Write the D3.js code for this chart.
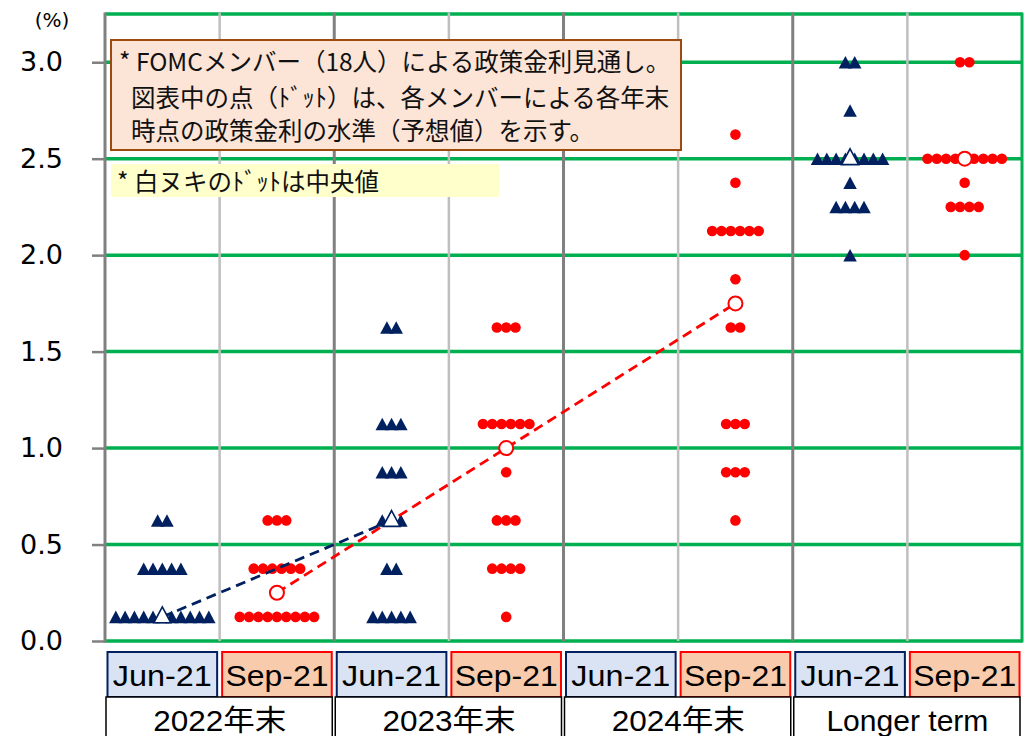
<!DOCTYPE html>
<html><head><meta charset="utf-8">
<script src="https://cdn.jsdelivr.net/npm/d3@7"></script>
<style>html,body{margin:0;padding:0;background:#fff;}svg{display:block;}</style>
</head><body>
<svg id="chart" width="1030" height="736"></svg>
<script>
// ---- data ----
const groups = ["2022年末", "2023年末", "2024年末", "Longer term"];
const meetings = ["Jun-21", "Sep-21"];
const yTicks = [0, 0.5, 1.0, 1.5, 2.0, 2.5, 3.0];
// [rate, number of dots]
const jun2022 = [[0.125, 11], [0.375, 5], [0.625, 2]];
const sep2022 = [[0.125, 9], [0.375, 6], [0.625, 3]];
const jun2023 = [[0.125, 5], [0.375, 2], [0.625, 3], [0.875, 3], [1.125, 3], [1.625, 2]];
const sep2023 = [[0.125, 1], [0.375, 4], [0.625, 3], [0.875, 1], [1.125, 6], [1.625, 3]];
const jun2024 = [];
const sep2024 = [[0.625, 1], [0.875, 3], [1.125, 3], [1.625, 2], [1.875, 1], [2.125, 6], [2.375, 1], [2.625, 1]];
const junLonger = [[2.0, 1], [2.25, 4], [2.375, 1], [2.5, 8], [2.75, 1], [3.0, 2]];
const sepLonger = [[2.0, 1], [2.25, 4], [2.375, 1], [2.5, 9], [3.0, 2]];
const junMedians = [0.125, 0.625, null, 2.5];
const sepMedians = [0.25, 1.0, 1.75, 2.5];
const noteLines = ["* FOMCメンバー（18人）による政策金利見通し。", "図表中の点（ﾄﾞｯﾄ）は、各メンバーによる各年末", "時点の政策金利の水準（予想値）を示す。"];
const noteMedian = "* 白ヌキのﾄﾞｯﾄは中央値";

// ---- setup ----
const svg = d3.select("#chart");
const cols = [];
groups.forEach((g, gi) => meetings.forEach((m, mi) => cols.push({g, gi, m, mi, key: g + "|" + m})));
const colDots = [jun2022, sep2022, jun2023, sep2023, jun2024, sep2024, junLonger, sepLonger];
const L = 105, R = 1022, T = 14, B = 641;
const x = d3.scaleBand().domain(cols.map(c => c.key)).range([L, R]).padding(0);
const bw = x.bandwidth();
const y = d3.scaleLinear().domain([0, 3.25]).range([B, T]);
const NAVY = "#002060", RED = "#ff0000", GREEN = "#00b050";
const cx = c => x(c.key) + bw / 2;

// isoceles triangle symbol type (size = width)
const isoTri = {draw(ctx, size) {
  const w = size, h = size * 0.93;
  ctx.moveTo(0, -h / 2); ctx.lineTo(w / 2, h / 2); ctx.lineTo(-w / 2, h / 2); ctx.closePath();
}};

// horizontal grid
svg.append("g").selectAll("line").data(yTicks.concat([3.25])).join("line")
  .attr("x1", L).attr("x2", R).attr("y1", d => y(d)).attr("y2", d => y(d))
  .attr("stroke", GREEN).attr("stroke-width", 3.5);

// vertical separators
svg.append("g").selectAll("line").data(cols.slice(1)).join("line")
  .attr("x1", c => x(c.key)).attr("x2", c => x(c.key)).attr("y1", T - 1.5).attr("y2", B)
  .attr("stroke", c => c.mi === 0 ? "#808080" : "#bfbfbf")
  .attr("stroke-width", c => c.mi === 0 ? 3 : 2.5);
svg.append("line").attr("x1", R).attr("x2", R).attr("y1", T - 1.5).attr("y2", B + 1.5)
  .attr("stroke", GREEN).attr("stroke-width", 3);

// y axis
const yAxis = d3.axisLeft(y).tickValues(yTicks).tickFormat(d3.format(".1f")).tickSize(13).tickPadding(29);
const ga = svg.append("g").attr("transform", `translate(${L},0)`).call(yAxis);
ga.select(".domain").attr("stroke", "#808080").attr("stroke-width", 3).attr("d", `M0,${T - 1.5}V${B + 1.5}`);
ga.selectAll(".tick line").attr("stroke", "#808080").attr("stroke-width", 2.5);
ga.selectAll(".tick text").attr("font-family", "DejaVu Sans").attr("font-size", 27).attr("fill", "#000");
svg.append("text").attr("x", 52).attr("y", 27).attr("text-anchor", "middle")
  .attr("font-family", "DejaVu Sans").attr("font-size", 20).text("(%)");

// annotation boxes
svg.append("rect").attr("x", 111).attr("y", 40).attr("width", 570).attr("height", 110)
  .attr("fill", "#fce4d6").attr("stroke", "#9c4a0e").attr("stroke-width", 2);
svg.append("g").selectAll("text").data(noteLines).join("text")
  .attr("x", (d, i) => i === 0 ? 119 : 131).attr("y", (d, i) => [71, 107, 140][i])
  .attr("font-family", "Noto Sans CJK JP").attr("font-size", 24.5).attr("fill", "#111").text(d => d);
svg.append("rect").attr("x", 111).attr("y", 164).attr("width", 388).attr("height", 33).attr("fill", "#ffffcc");
svg.append("text").attr("x", 117).attr("y", 191).attr("font-family", "Noto Sans CJK JP")
  .attr("font-size", 24.5).attr("fill", "#111").text(noteMedian);

// dots
const S = 9.3;
const triSym = d3.symbol().type(isoTri).size(13.5);
const allDots = [];
cols.forEach((c, ci) => colDots[ci].forEach(([r, n]) => {
  for (let k = 0; k < n; k++) allDots.push({c, r, off: (k - (n - 1) / 2) * S});
}));
const gd = svg.append("g");
gd.selectAll("path").data(allDots.filter(d => d.c.mi === 0)).join("path")
  .attr("d", triSym).attr("fill", NAVY)
  .attr("transform", d => `translate(${cx(d.c) + d.off},${y(d.r)})`);
gd.selectAll("circle").data(allDots.filter(d => d.c.mi === 1)).join("circle")
  .attr("cx", d => cx(d.c) + d.off).attr("cy", d => y(d.r)).attr("r", 5.3).attr("fill", RED);

// median lines
const junPts = junMedians.map((v, i) => ({v, c: cols[i * 2]})).filter(d => d.v !== null && d.c.gi < 3);
const sepPts = sepMedians.map((v, i) => ({v, c: cols[i * 2 + 1]})).filter(d => d.c.gi < 3);
const line = d3.line().x(d => cx(d.c)).y(d => y(d.v));
svg.append("path").datum(junPts).attr("d", line).attr("fill", "none")
  .attr("stroke", NAVY).attr("stroke-width", 2.8).attr("stroke-dasharray", "10,6");
svg.append("path").datum(sepPts).attr("d", line).attr("fill", "none")
  .attr("stroke", RED).attr("stroke-width", 2.8).attr("stroke-dasharray", "10,6");

// median markers
const medSym = d3.symbol().type(isoTri).size(17);
svg.append("g").selectAll("path").data(junMedians.map((v, i) => ({v, c: cols[i * 2]})).filter(d => d.v !== null)).join("path")
  .attr("d", medSym).attr("fill", "#fff").attr("stroke", NAVY).attr("stroke-width", 1.6)
  .attr("transform", d => `translate(${cx(d.c)},${y(d.v) - 2})`);
svg.append("g").selectAll("circle").data(sepMedians.map((v, i) => ({v, c: cols[i * 2 + 1]}))).join("circle")
  .attr("cx", d => cx(d.c)).attr("cy", d => y(d.v)).attr("r", 7)
  .attr("fill", "#fff").attr("stroke", RED).attr("stroke-width", 2);

// category labels
const gl = svg.append("g");
gl.selectAll("rect").data(cols).join("rect")
  .attr("x", c => x(c.key) + 2.5).attr("y", 652).attr("width", bw - 5).attr("height", 45)
  .attr("fill", c => c.mi === 0 ? "#dae3f3" : "#f8cbad")
  .attr("stroke", c => c.mi === 0 ? NAVY : RED).attr("stroke-width", 2);
gl.selectAll("text").data(cols).join("text")
  .attr("x", c => cx(c)).attr("y", 686).attr("text-anchor", "middle")
  .attr("font-family", "Liberation Sans Narrow, Liberation Sans, Arial").attr("font-size", 29)
  .attr("textLength", c => c.mi === 0 ? 99 : 103).attr("lengthAdjust", "spacingAndGlyphs")
  .text(c => c.m);

const gg = svg.append("g");
gg.selectAll("rect").data(groups).join("rect")
  .attr("x", (g, i) => x(cols[i * 2].key) + 1).attr("y", 697).attr("width", bw * 2 - 3).attr("height", 45)
  .attr("fill", "#fff").attr("stroke", "#000").attr("stroke-width", 1.5);
gg.selectAll("text").data(groups).join("text")
  .attr("x", (g, i) => x(cols[i * 2].key) + bw).attr("y", 731).attr("text-anchor", "middle")
  .attr("font-family", "Liberation Sans Narrow, Liberation Sans, Noto Sans CJK JP").attr("font-size", 29)
  .attr("textLength", (g, i) => i === 3 ? 162 : 133).attr("lengthAdjust", "spacingAndGlyphs")
  .text(g => g);
</script>
</body></html>
